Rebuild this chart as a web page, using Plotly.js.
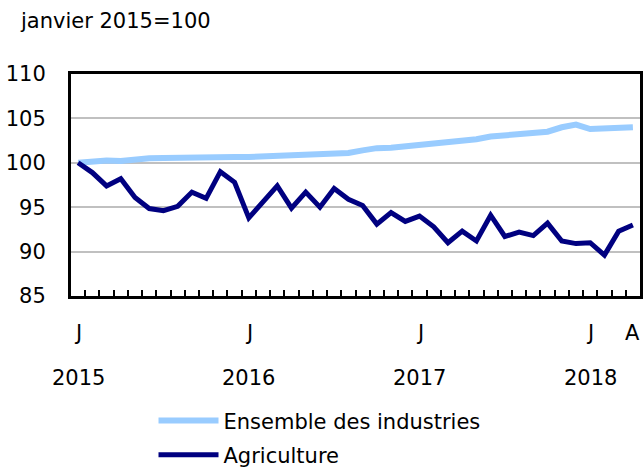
<!DOCTYPE html>
<html>
<head>
<meta charset="utf-8">
<script src="https://cdn.plot.ly/plotly-3.0.1.min.js"></script>
<style>html,body{margin:0;padding:0;background:#fff;}#chart{width:644px;height:468px;}</style>
</head>
<body>
<div id="chart"></div>
<script>
// Monthly, January 2015 to April 2018 (index, janvier 2015=100)
const months = [
  "2015-01","2015-02","2015-03","2015-04","2015-05","2015-06","2015-07","2015-08","2015-09","2015-10","2015-11","2015-12",
  "2016-01","2016-02","2016-03","2016-04","2016-05","2016-06","2016-07","2016-08","2016-09","2016-10","2016-11","2016-12",
  "2017-01","2017-02","2017-03","2017-04","2017-05","2017-06","2017-07","2017-08","2017-09","2017-10","2017-11","2017-12",
  "2018-01","2018-02","2018-03","2018-04"
];
const ensemble = [
  100.0,100.2,100.25,100.2,100.4,100.5,100.55,100.6,100.6,100.7,100.7,100.65,
  100.65,100.7,100.8,100.9,100.9,101.0,100.95,101.1,101.4,101.65,101.7,101.85,
  102.15,102.3,102.4,102.45,102.65,102.95,103.05,103.2,103.3,103.5,104.0,104.3,
  103.8,103.85,104.0,104.0
];
const agriculture = [
  100.0,98.9,97.4,98.2,96.1,94.85,94.6,95.1,96.7,96.0,99.0,97.8,
  93.8,95.7,97.4,94.9,96.7,95.0,97.1,95.9,95.2,93.1,94.4,93.4,
  94.0,92.8,91.0,92.3,91.2,94.1,91.7,92.2,91.8,93.2,91.2,90.9,
  91.0,89.6,92.3,93.0
];
const monthLabels = [{i:0,t:"J"},{i:12,t:"J"},{i:24,t:"J"},{i:36,t:"J"},{i:39,t:"A"}];
const yearLabels = [{i:0,t:"2015"},{i:12,t:"2016"},{i:24,t:"2017"},{i:36,t:"2018"}];
const yTicks = [85,90,95,100,105,110];
const seriesNames = ["Ensemble des industries","Agriculture"];

const xIdx = months.map((m,i)=>i);
const FONT = "DejaVu Sans, Verdana, sans-serif";
const FS = 21;

const traces = [
  {x:xIdx, y:ensemble, type:"scatter", mode:"lines", name:seriesNames[0], legendgroup:"a",
   line:{color:"#99CCFF", width:6}},
  {x:xIdx, y:agriculture, type:"scatter", mode:"lines", name:seriesNames[1], legendgroup:"b",
   line:{color:"#000080", width:5}}
];

const annotations = [];
monthLabels.forEach(o=>annotations.push({x:o.i, y:0, xref:"x", yref:"paper", yshift:-37, text:o.t, showarrow:false,
  font:{family:FONT,size:FS,color:"#000"}, xanchor:"center", yanchor:"middle"}));
yearLabels.forEach(o=>annotations.push({x:o.i, y:0, xref:"x", yref:"paper", yshift:-82, text:o.t, showarrow:false,
  font:{family:FONT,size:FS,color:"#000"}, xanchor:"center", yanchor:"middle"}));

const layout = {
  width:644, height:468,
  margin:{l:71, r:4, t:74, b:172, autoexpand:false},
  paper_bgcolor:"#fff", plot_bgcolor:"#fff",
  showlegend:true,
  title:{text:"janvier 2015=100", x:21/644, xanchor:"left", xref:"container", y:1-21/468, yanchor:"middle", yref:"container",
    font:{family:FONT,size:FS,color:"#000"}},
  xaxis:{range:[-0.5,39.5], tickmode:"array", tickvals:xIdx.slice(0,39).map(i=>i+0.5), ticktext:xIdx.slice(0,39).map(()=>""),
    ticks:"inside", ticklen:6, tickwidth:2, tickcolor:"#000", showticklabels:false,
    showline:true, linecolor:"#000", linewidth:3, mirror:true, showgrid:false, zeroline:false, fixedrange:true},
  yaxis:{range:[85,110], tickmode:"array", tickvals:yTicks, ticks:"", showline:true, linecolor:"#000", linewidth:3, mirror:true,
    showgrid:true, gridcolor:"#C0C0C0", gridwidth:2, zeroline:false, ticklabelstandoff:18,
    tickfont:{family:FONT,size:FS,color:"#000"}, fixedrange:true},
  legend:{x:0.145, xanchor:"left", y:-0.47, yanchor:"top", orientation:"v", font:{family:FONT,size:FS,color:"#000"},
    tracegroupgap:4, itemwidth:60, bgcolor:"rgba(0,0,0,0)"},
  annotations:annotations
};

Plotly.newPlot("chart", traces, layout, {staticPlot:true, displayModeBar:false});
</script>
</body>
</html>
